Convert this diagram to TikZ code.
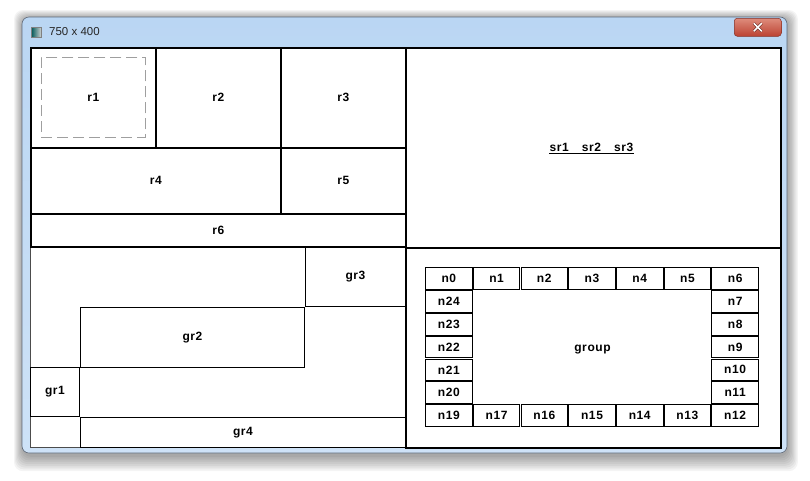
\documentclass[tikz,border=0pt]{standalone}
\usepackage{fontspec}
\setmainfont{Liberation Sans}
\newfontfamily\lblfamily[LetterSpace=5]{Liberation Sans}
\usetikzlibrary{positioning,calc}
\definecolor{wintop}{RGB}{186,214,243}
\definecolor{winbot}{RGB}{206,226,247}
\definecolor{winedge}{RGB}{95,105,120}
\definecolor{closetop}{RGB}{222,140,124}
\definecolor{closebot}{RGB}{188,66,50}
\newcommand\lblfont{\lblfamily\fontsize{12}{14}\selectfont\bfseries}
\tikzset{
    panel line/.style={line width=1.6pt, black},
    thin line/.style={line width=0.9pt, black},
    rbox/.style={draw, panel line, inner sep=0pt, anchor=north west, font=\lblfont},
    grbox/.style={draw, thin line, inner sep=0pt, anchor=north west, font=\lblfont},
    cell/.style={draw, thin line, inner sep=0pt, minimum width=46.6pt, minimum height=21.8pt, font=\lblfont}
}

\begin{document}
\begin{tikzpicture}[x=1pt,y=-1pt]
\useasboundingbox[fill=white] (0,0) rectangle (810,480);
% window
\foreach \s in {1,...,9}
  \fill[black, opacity=0.045, rounded corners=9pt] (23-\s,19-\s) rectangle (787+1.2*\s,455+1.8*\s);
\shade[top color=wintop, bottom color=winbot, draw=winedge, line width=0.6pt, rounded corners=7pt] (22,17) rectangle (787,453);
\node[draw=closebot!70!black, line width=0.5pt, top color=closetop, bottom color=closebot, rounded corners=3pt, minimum width=47pt, minimum height=18pt, anchor=north west] (closebtn) at (734,18) {};
\draw[closebot!50!black, line width=2.6pt] ($(closebtn.center)+(-4,-4)$) -- ($(closebtn.center)+(4,4)$) ($(closebtn.center)+(-4,4)$) -- ($(closebtn.center)+(4,-4)$);
\draw[white, line width=1.6pt] ($(closebtn.center)+(-4,-4)$) -- ($(closebtn.center)+(4,4)$) ($(closebtn.center)+(-4,4)$) -- ($(closebtn.center)+(4,-4)$);
\node[draw=gray, line width=0.5pt, left color=teal!70!black, right color=gray!35, minimum size=10pt, inner sep=0pt, anchor=north west] (appicon) at (31,27) {};
\node[anchor=west, inner sep=0pt, font=\fontsize{11.5}{13}\selectfont, text=black!85] (wintitle) at (49,31.5) {750 x 400};
\node[draw=black!70, fill=white, line width=0.6pt, minimum width=750pt, minimum height=400pt, anchor=north west, inner sep=0pt] (client) at (30,47) {};

% top left
\node[rbox, minimum width=125pt, minimum height=100pt] (r1) at (30,47) {r1};
\node[draw=gray!75, line width=0.9pt, dash pattern=on 11pt off 5pt, minimum width=104pt, minimum height=80pt, anchor=north west] (r1frame) at (41,57) {};
\node[rbox, minimum width=125pt, minimum height=100pt] (r2) at (155,47) {r2};
\node[rbox, minimum width=125pt, minimum height=100pt] (r3) at (280,47) {r3};
\node[rbox, minimum width=250pt, minimum height=66pt] (r4) at (30,147) {r4};
\node[rbox, minimum width=125pt, minimum height=66pt] (r5) at (280,147) {r5};
\node[rbox, minimum width=375pt, minimum height=33pt] (r6) at (30,213) {r6};

% top right
\node[rbox, minimum width=375pt, minimum height=200pt] (srpanel) at (405,47) {};
\node[font=\lblfont, inner sep=0pt, anchor=base] (srlabel) at (591.5,151) {sr1\hspace{13pt}sr2\hspace{13pt}sr3};
\draw[line width=1.3pt] ($(srlabel.south west)+(0,2.2)$) -- ($(srlabel.south east)+(0,2.2)$);

% bottom left
\node[grbox, minimum width=100pt, minimum height=59pt] (gr3) at (305,247) {gr3};
\node[grbox, minimum width=224pt, minimum height=60pt] (gr2) at (80,307) {gr2};
\node[grbox, minimum width=49pt, minimum height=49pt] (gr1) at (30,367) {gr1};
\node[grbox, minimum width=325pt, minimum height=30pt] (gr4) at (80,417) {gr4};
\draw[panel line] (client.north west -| r6.south east) -- (client.south west -| r6.south east);

% bottom right
\node[rbox, minimum width=375pt, minimum height=200pt] (group) at (405,247) {};
\node[font=\lblfont, inner sep=0pt, anchor=base] (grouplbl) at (592.5,351) {group};
\foreach \c in {0,...,6}
  \node[cell] (n\c) at ({425+(\c+0.5)*47.714},{267+0.5*22.857}) {n\c};
\foreach \r/\n in {1/7,2/8,3/9,4/10,5/11}
  \node[cell] (n\n) at ({425+6.5*47.714},{267+(\r+0.5)*22.857}) {n\n};
\foreach \c/\n in {0/19,1/17,2/16,3/15,4/14,5/13,6/12}
  \node[cell] (n\n) at ({425+(\c+0.5)*47.714},{267+6.5*22.857}) {n\n};
\foreach \r/\n in {1/24,2/23,3/22,4/21,5/20}
  \node[cell] (n\n) at ({425+0.5*47.714},{267+(\r+0.5)*22.857}) {n\n};
\end{tikzpicture}
\end{document}
